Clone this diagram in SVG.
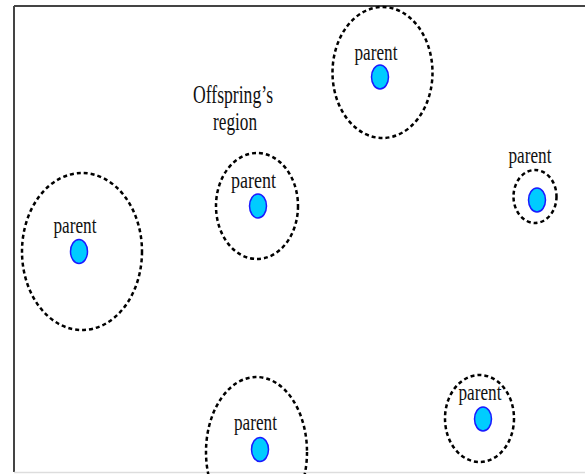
<svg xmlns="http://www.w3.org/2000/svg" width="585" height="474" viewBox="0 0 585 474">
<style>
.region{fill:none;stroke:#000;stroke-width:2.5;stroke-dasharray:4 3}
.dot{fill:#00ccff;stroke:#1a1aff;stroke-width:1.5}
.lbl{font-family:"Liberation Serif","Times New Roman",serif;font-size:22.5px;fill:#111;text-anchor:middle}
.big{font-size:24.5px}
</style>
<rect width="585" height="474" fill="#fff"/>
<g id="frame">
<line x1="14" y1="6" x2="585" y2="6" stroke="#444" stroke-width="2"/>
<line x1="14" y1="6" x2="14" y2="472" stroke="#444" stroke-width="2"/>
<line x1="14" y1="472.5" x2="585" y2="472.5" stroke="#ddd" stroke-width="1.5"/>
</g>
<g id="node-top">
<ellipse class="region" cx="382.5" cy="72.5" rx="50" ry="65.5"/>
<ellipse class="dot" cx="380" cy="77" rx="8.5" ry="12"/>
<text class="lbl" x="376" y="60" textLength="43" lengthAdjust="spacingAndGlyphs">parent</text>
</g>
<g id="node-middle">
<text class="lbl big" x="233" y="103" textLength="80" lengthAdjust="spacingAndGlyphs">Offspring’s</text>
<text class="lbl big" x="235" y="130" textLength="44" lengthAdjust="spacingAndGlyphs">region</text>
<ellipse class="region" cx="257" cy="206" rx="41" ry="53"/>
<ellipse class="dot" cx="258" cy="206" rx="8.5" ry="12"/>
<text class="lbl" x="253.5" y="188" textLength="45" lengthAdjust="spacingAndGlyphs">parent</text>
</g>
<g id="node-left">
<ellipse class="region" cx="82" cy="251.5" rx="60" ry="78.5"/>
<ellipse class="dot" cx="79" cy="251.5" rx="8.5" ry="12"/>
<text class="lbl" x="75" y="233" textLength="43" lengthAdjust="spacingAndGlyphs">parent</text>
</g>
<g id="node-right">
<ellipse class="region" cx="535" cy="196.5" rx="21.5" ry="26.5"/>
<ellipse class="dot" cx="537" cy="200" rx="8.5" ry="12"/>
<text class="lbl" x="530" y="163" textLength="43" lengthAdjust="spacingAndGlyphs">parent</text>
</g>
<g id="node-bottom">
<ellipse class="region" cx="256.5" cy="452" rx="50.5" ry="75"/>
<ellipse class="dot" cx="260" cy="449.5" rx="8.5" ry="12"/>
<text class="lbl" x="255.5" y="430" textLength="43" lengthAdjust="spacingAndGlyphs">parent</text>
</g>
<g id="node-bottom-right">
<ellipse class="region" cx="479.5" cy="418.5" rx="34.5" ry="43.5"/>
<ellipse class="dot" cx="483" cy="419" rx="8.5" ry="12"/>
<text class="lbl" x="480" y="400" textLength="43" lengthAdjust="spacingAndGlyphs">parent</text>
</g>
<g id="connectors"/>
</svg>
